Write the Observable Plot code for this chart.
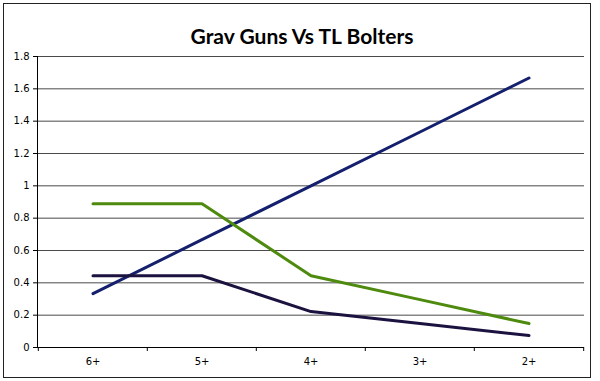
<!DOCTYPE html>
<html>
<head>
<meta charset="utf-8">
<script src="https://cdn.jsdelivr.net/npm/d3@7"></script>
<script src="https://cdn.jsdelivr.net/npm/@observablehq/plot@0.6"></script>
<style>
  html, body { margin: 0; padding: 0; background: #fff; }
  #chart { width: 600px; height: 381px; }
</style>
</head>
<body>
<div id="chart"></div>
<script>
const title = "Grav Guns Vs TL Bolters";
const categories = ["6+", "5+", "4+", "3+", "2+"];
const seriesNames = ["Blue", "Green", "Dark"];
const seriesColors = ["#14206e", "#4e8a0e", "#1c1240"];
const blueValues  = [0.333, 0.667, 1.0, 1.333, 1.667];
const greenValues = [0.889, 0.889, 0.444, 0.296, 0.148];
const darkValues  = [0.444, 0.444, 0.222, 0.148, 0.074];
const yTicks = [0, 0.2, 0.4, 0.6, 0.8, 1, 1.2, 1.4, 1.6, 1.8];
const yTickLabels = ["0", "0.2", "0.4", "0.6", "0.8", "1", "1.2", "1.4", "1.6", "1.8"];

const allValues = [blueValues, greenValues, darkValues];
const data = [];
seriesNames.forEach((s, i) => categories.forEach((c, j) => data.push({series: s, cat: c, value: allValues[i][j]})));

const W = 600, H = 381;
const mL = 37, mR = 16, mT = 56, mB = 34;
const bw = (W - mL - mR) / categories.length;
const pxPerUnit = (H - mT - mB) / 1.8;

const chart = Plot.plot({
  width: W, height: H,
  marginLeft: mL, marginRight: mR, marginTop: mT, marginBottom: mB,
  style: {fontFamily: "DejaVu Sans", fontSize: "10px", color: "#000", background: "#fff"},
  x: {type: "band", domain: categories, padding: 0, label: null},
  y: {domain: [0, 1.8], label: null},
  color: {domain: seriesNames, range: seriesColors},
  marks: [
    Plot.ruleY(yTicks.slice(1), {stroke: "#4a4a4a", strokeWidth: 1}),
    Plot.axisY({ticks: yTicks, tickSize: 4, tickPadding: 4, tickFormat: (d) => yTickLabels[yTicks.indexOf(d)], fontSize: 10, fontFamily: "DejaVu Sans", label: null}),
    Plot.axisX({tickSize: 0, tickPadding: 10, fontSize: 10, fontFamily: "DejaVu Sans", label: null}),
    Plot.frame({anchor: "left", stroke: "#000"}),
    Plot.ruleY([0], {stroke: "#000"}),
    Plot.ruleX(categories, {x: (d) => d, dx: -bw / 2, y1: 0, y2: -4 / pxPerUnit, stroke: "#000"}),
    Plot.ruleX([categories[categories.length - 1]], {x: (d) => d, dx: bw / 2, y1: 0, y2: -4 / pxPerUnit, stroke: "#000"}),
    Plot.lineY(data, {x: "cat", y: "value", z: "series", stroke: "series", strokeWidth: 3, strokeLinejoin: "round"}),
    Plot.text([title], {frameAnchor: "top", dy: -27, dx: -9, text: (d) => d, fontSize: 21, fontWeight: "bold", fontFamily: "Lato", fill: "#000"})
  ]
});

d3.select(chart).append("rect")
  .attr("x", 3.5).attr("y", 3.5).attr("width", 587).attr("height", 374)
  .attr("fill", "none").attr("stroke", "#222").attr("stroke-width", 1);

document.getElementById("chart").appendChild(chart);
</script>
</body>
</html>
